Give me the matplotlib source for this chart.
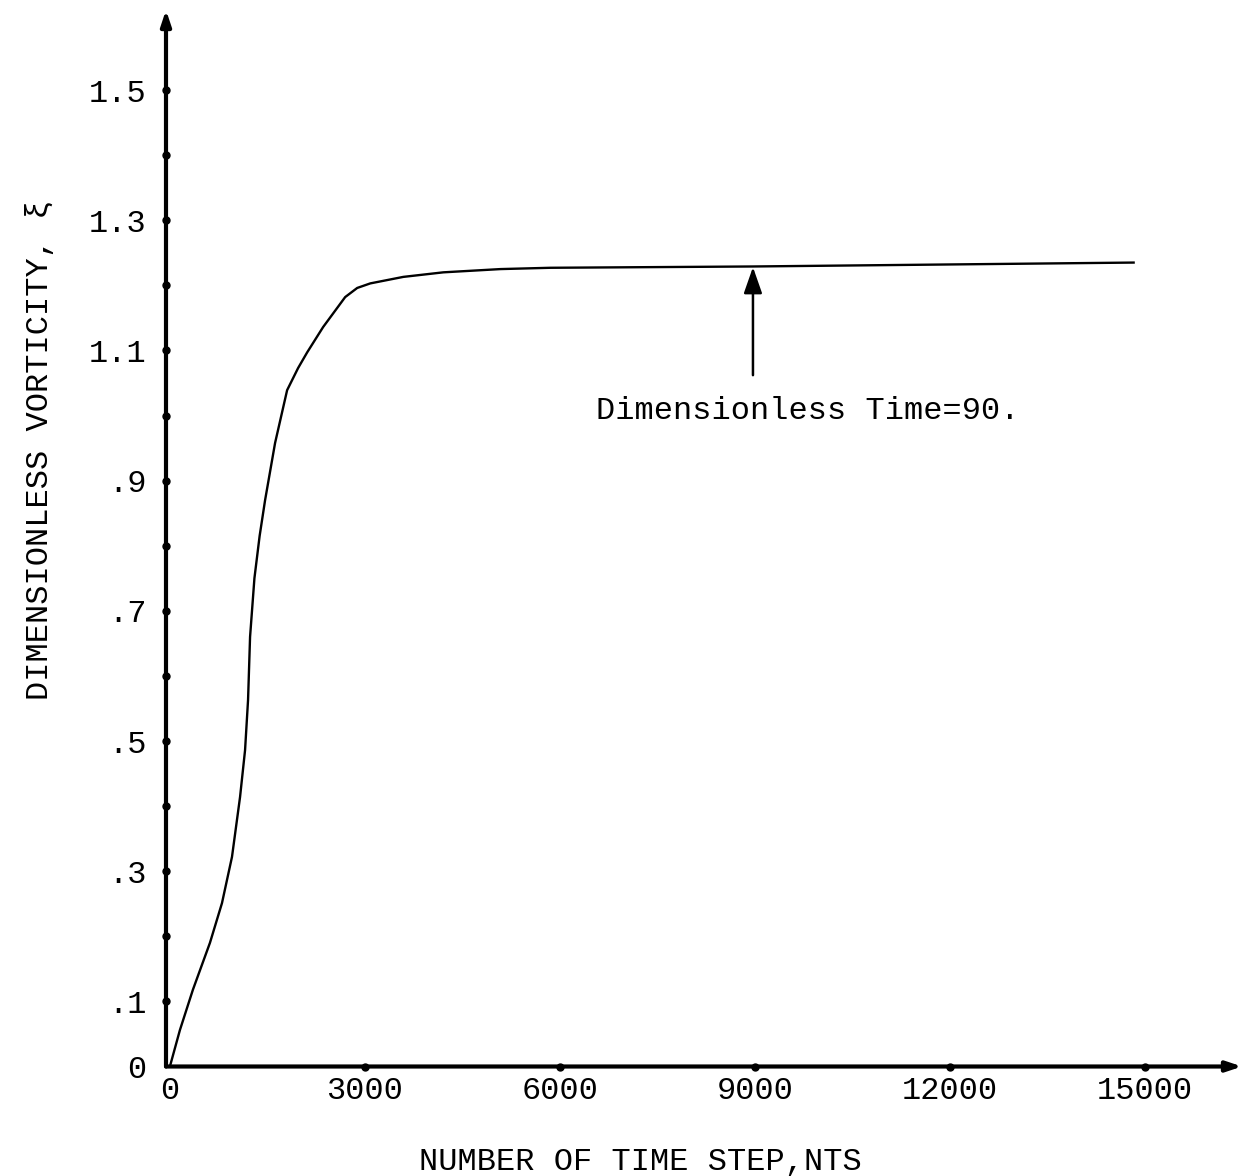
import matplotlib
matplotlib.use("Agg")
import matplotlib.pyplot as plt
import numpy as np

# Data
nts = [0, 154, 354, 616, 801, 955, 1079, 1156, 1202, 1233, 1300, 1380, 1464, 1618,
       1803, 1972, 2111, 2357, 2696, 2881, 3082, 3590, 4206, 5085, 5855, 8968, 14823]
vorticity = [0.0, 0.056, 0.118, 0.190, 0.251, 0.322, 0.414, 0.486, 0.563, 0.660,
             0.750, 0.815, 0.870, 0.958, 1.039, 1.073, 1.097, 1.136, 1.182, 1.196, 1.203,
             1.213, 1.220, 1.225, 1.227, 1.229, 1.235]

xticks = [0, 3000, 6000, 9000, 12000, 15000]
xticklabels = ["0", "3000", "6000", "9000", "12000", "15000"]
yticks = [0.0, 0.1, 0.3, 0.5, 0.7, 0.9, 1.1, 1.3, 1.5]
yticklabels = ["0", ".1", ".3", ".5", ".7", ".9", "1.1", "1.3", "1.5"]
ydots = [0.1, 0.2, 0.3, 0.4, 0.5, 0.6, 0.7, 0.8, 0.9, 1.0, 1.1, 1.2, 1.3, 1.4, 1.5]

annot_text = "Dimensionless Time=90."
annot_x = 8968
annot_y_tip = 1.228
annot_y_tail = 1.062

plt.rcParams['font.family'] = ['Liberation Mono', 'DejaVu Sans Mono', 'DejaVu Sans']
FS = 23

fig = plt.figure(figsize=(12.44, 11.76), dpi=100)
ax = fig.add_axes([166/1244, 1 - 1066.5/1176, (1242-166)/1244, (1066.5-10)/1176])
xmin, xmax = -60, 16490
ymin, ymax = 0.0, 1.623
ax.set_xlim(xmin, xmax)
ax.set_ylim(ymin, ymax)
for s in ax.spines.values():
    s.set_visible(False)

# axes with arrows
ax.annotate("", xy=(xmax, 0), xytext=(xmin, 0), annotation_clip=False,
            arrowprops=dict(arrowstyle="-|>,head_length=0.9,head_width=0.3", lw=3, color="black",
                            shrinkA=0, shrinkB=0))
ax.annotate("", xy=(xmin, ymax), xytext=(xmin, 0), annotation_clip=False,
            arrowprops=dict(arrowstyle="-|>,head_length=0.9,head_width=0.3", lw=3, color="black",
                            shrinkA=0, shrinkB=0))

# tick dots
ax.plot(xticks[1:], [0]*len(xticks[1:]), 'o', color='black', ms=5, clip_on=False)
ax.plot([xmin]*len(ydots), ydots, 'o', color='black', ms=5, clip_on=False)

# curve
ax.plot(nts, vorticity, color='black', lw=1.7, clip_on=False)

# ticks
ax.set_xticks(xticks, xticklabels, fontsize=FS)
ax.set_yticks(yticks, yticklabels, fontsize=FS)
ax.tick_params(axis='x', length=0, pad=7)
ax.tick_params(axis='y', length=0, pad=14)

ax.set_xlabel("NUMBER OF TIME STEP,NTS", fontsize=FS)
ax.xaxis.set_label_coords((640-166)/1076, -(1147-1066.5)/1056.5)
ax.set_ylabel("DIMENSIONLESS VORTICITY, ξ", fontsize=FS)
ax.yaxis.set_label_coords((40-166)/1076, (1066.5-450)/1056.5)
ax.yaxis.label.set_va('center')

# annotation
ax.annotate("", xy=(annot_x, annot_y_tip), xytext=(annot_x, annot_y_tail),
            arrowprops=dict(arrowstyle="-|>,head_length=1.0,head_width=0.35", lw=1.8,
                            color="black", shrinkA=0, shrinkB=0), fontsize=16)
ax.text(6549, 1.007, annot_text, fontsize=FS, ha='left', va='center')

fig.savefig("out.png", dpi=100)
